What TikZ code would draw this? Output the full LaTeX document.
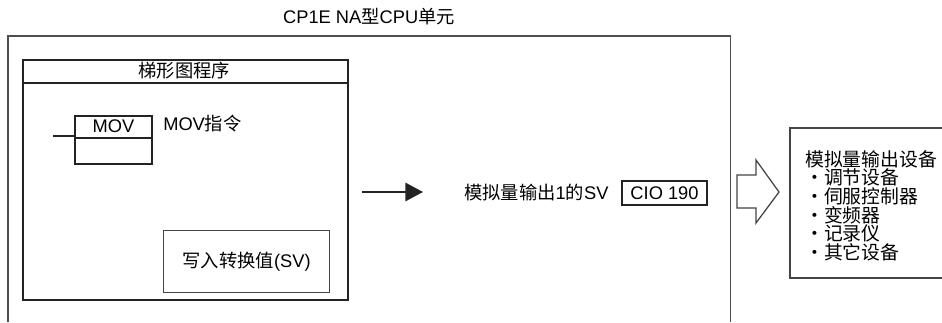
\documentclass[tikz,border=0pt]{standalone}
\usepackage{fontspec}
\setmainfont{Liberation Sans}
\newfontfamily\cjk{Noto Sans CJK SC}
\usetikzlibrary{arrows.meta,positioning}
\definecolor{frame-draw}{RGB}{35,35,35}

\begin{document}
\begin{tikzpicture}[
 txt/.style={font=\fontsize{13}{15}\selectfont, inner sep=0},
 boldbox/.style={draw=frame-draw, line width=1.3pt, inner sep=0},
 thinbox/.style={draw=frame-draw!85, line width=0.9pt, inner sep=0},
]
 \useasboundingbox (0,0) rectangle (23.55,-8.05);
 %
 \node[txt] (title) at (9.225,-0.425) {CP1E NA{\cjk 型}CPU{\cjk 单元}};
 \draw[frame-draw!80, line width=1pt] (0.2,-8.05) |- (18.26,-0.9) -- (18.26,-8.05);
 %
 \node[boldbox, anchor=north west, minimum width=8.125cm, minimum height=6cm] (ladder) at (0.55,-1.475) {};
 \draw[boldbox] ([yshift=-0.6cm]ladder.north west) -- ([yshift=-0.6cm]ladder.north east);
 \node[txt] (ladhead) at (4.61,-1.775) {\cjk 梯形图程序};
 %
 \node[boldbox, anchor=north west, minimum width=1.925cm, minimum height=1.2cm] (mov) at (1.85,-2.875) {};
 \draw[boldbox] ([yshift=-0.575cm]mov.north west) -- ([yshift=-0.575cm]mov.north east);
 \node[txt] (movname) at ([yshift=-0.29cm]mov.north) {MOV};
 \coordinate (stub) at (1.325,-3.4);
 \draw[boldbox] (stub) -- (stub -| mov.west);
 \node[txt, anchor=west] (movlbl) at (4.075,-3.1) {MOV{\cjk 指令}};
 %
 \node[thinbox, txt, anchor=north west, minimum width=4.15cm, minimum height=1.55cm] (write) at (4.075,-5.75) {{\cjk 写入转换值}(SV)};
 %
 \coordinate (arrS) at (9.05,-4.8);
 \coordinate (arrE) at (10.575,-4.8);
 \draw[-{Triangle[length=4.4mm,width=4.6mm]}, line width=1pt, frame-draw] (arrS) -- (arrE);
 \node[txt, anchor=west] (svlbl) at (11.6,-4.825) {{\cjk 模拟量输出}1{\cjk 的}SV};
 \node[boldbox, txt, minimum width=2.125cm, minimum height=0.6cm] (cio) at (16.6125,-4.825) {CIO 190};
 %
 \draw[thinbox] (18.425,-4.375) -- (18.9,-4.375) -- (18.9,-4.0) -- (19.475,-4.8)
   -- (18.9,-5.575) -- (18.9,-5.2) -- (18.425,-5.2) -- cycle;
 %
 \draw[thinbox] (23.55,-3.2) -| (19.75,-6.95) -- (23.55,-6.95);
 \node[txt, anchor=north west, align=left, font=\cjk\fontsize{13.4}{13.3}\selectfont] (devices) at (20.125,-3.75)
   {模拟量输出设备\\・调节设备\\・伺服控制器\\・变频器\\・记录仪\\・其它设备};
\end{tikzpicture}
\end{document}
